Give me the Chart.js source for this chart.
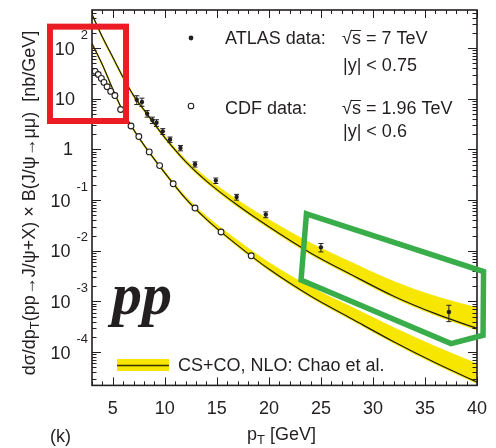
<!DOCTYPE html>
<html>
<head>
<meta charset="utf-8">
<script src="https://cdn.jsdelivr.net/npm/chart.js@4"></script>
<style>
  html, body { margin: 0; padding: 0; background: #fff; }
</style>
</head>
<body>
<canvas id="c" width="496" height="448"></canvas>
<script>
// ATLAS data, sqrt(s) = 7 TeV, |y| < 0.75
const atlasPt = [7.3, 7.8, 8.3, 8.8, 9.2, 9.8, 10.5, 11.5, 12.9, 14.9, 16.9, 19.7, 25.0, 37.3];
const atlasXs = [9.6, 8.7, 5.1, 3.8, 3.36, 2.28, 1.57, 1.07, 0.51, 0.243, 0.115, 0.0518, 0.0117, 0.00062];
const atlasErr = [1.9, 1.6, 0.75, 0.55, 0.5, 0.3, 0.19, 0.13, 0.06, 0.03, 0.015, 0.0068, 0.0022, 0.00022];

// CDF data, sqrt(s) = 1.96 TeV, |y| < 0.6
const cdfPt = [3.3, 3.6, 3.9, 4.15, 4.45, 4.8, 5.2, 5.75, 6.75, 7.5, 8.5, 9.5, 10.8, 12.9, 15.4, 18.3];
const cdfXs = [34.9, 30.2, 25.3, 21.1, 17.3, 14.0, 11.6, 6.16, 2.91, 1.8, 0.895, 0.48, 0.21, 0.0697, 0.0235, 0.00797];

// CS+CO NLO (Chao et al.) central value and band edges
const thPt = [3, 4, 5, 6, 7, 8, 10, 12, 14, 17, 20, 24, 28, 32, 36, 40];
const th7 = [468, 166, 66.1, 26.3, 11.6, 6.03, 1.72, 0.577, 0.237, 0.079, 0.0298, 0.00908, 0.00332, 0.00127, 0.000574, 0.000293];
const th7Hi = [482, 171, 68.1, 27.4, 12.1, 6.33, 1.84, 0.635, 0.277, 0.100, 0.0411, 0.0142, 0.00581, 0.00248, 0.00126, 0.000747];
const th7Lo = [435, 154, 61.5, 24.5, 10.8, 5.61, 1.6, 0.537, 0.22, 0.0735, 0.0277, 0.00844, 0.00309, 0.00118, 0.000534, 0.000272];
const th196 = [123, 47.1, 15.5, 5.55, 2.46, 1.22, 0.345, 0.107, 0.0418, 0.0128, 0.00435, 0.00128, 0.00045, 0.00016, 0.0000615, 0.0000256];
const th196Hi = [128, 49.0, 16.1, 5.77, 2.56, 1.27, 0.369, 0.118, 0.0481, 0.016, 0.00587, 0.00192, 0.000765, 0.000304, 0.000129, 0.0000589];
const th196Lo = [116, 44.3, 14.6, 5.22, 2.31, 1.15, 0.324, 0.1006, 0.0393, 0.012, 0.00409, 0.0012, 0.000423, 0.00015, 0.0000578, 0.0000241];

// tick labels
const xTickVals = [5, 10, 15, 20, 25, 30, 35, 40];
const yDecades = [-4, -3, -2, -1, 0, 1, 2];

// highlight marks drawn over the figure (data coordinates)
const redBoxX = [-1.04, 6.27];
const redBoxY = [266, 3.65];
const greenPolyX = [23.61, 40.63, 40.58, 37.5, 23.09];
const greenPolyY = [0.0538, 0.00389, 0.000215, 0.000147, 0.00266];

const FONT = '"Liberation Sans", Arial, Helvetica, sans-serif';
const INK = '#231f20';
const YELLOW = '#f6e600';

const pts = (xs, ys) => xs.map((x, i) => ({ x: x, y: ys[i] }));

function richWidth(ctx, parts, size) {
  let w = 0;
  parts.forEach(p => {
    ctx.font = (p[1] ? size * 0.72 : size) + 'px ' + FONT;
    w += ctx.measureText(p[0]).width;
  });
  return w;
}

function drawRich(ctx, parts, x, y, size) {
  let cx = x;
  parts.forEach(p => {
    const s = p[1] ? size * 0.72 : size;
    ctx.font = s + 'px ' + FONT;
    const dy = p[1] === 'sub' ? size * 0.32 : 0;
    ctx.fillText(p[0], cx, y + dy);
    cx += ctx.measureText(p[0]).width;
  });
}

const framePlugin = {
  id: 'frame',
  afterDatasetsDraw(chart) {
    const { ctx, chartArea: a, scales: { x, y } } = chart;
    ctx.save();

    // ATLAS error bars
    ctx.strokeStyle = INK;
    ctx.lineWidth = 1;
    atlasPt.forEach((pt, i) => {
      const px = x.getPixelForValue(pt);
      const y1 = y.getPixelForValue(atlasXs[i] + atlasErr[i]);
      const y2 = y.getPixelForValue(atlasXs[i] - atlasErr[i]);
      ctx.beginPath();
      ctx.moveTo(px, y1); ctx.lineTo(px, y2);
      ctx.moveTo(px - 2.5, y1); ctx.lineTo(px + 2.5, y1);
      ctx.moveTo(px - 2.5, y2); ctx.lineTo(px + 2.5, y2);
      ctx.stroke();
    });

    // frame
    ctx.lineWidth = 1.6;
    ctx.strokeRect(a.left, a.top, a.right - a.left, a.bottom - a.top);

    // x ticks (inside, bottom and top)
    ctx.lineWidth = 1;
    ctx.beginPath();
    for (let v = 3; v <= 40; v++) {
      const px = Math.round(x.getPixelForValue(v)) + 0.5;
      const len = v % 5 === 0 ? 8 : 4;
      ctx.moveTo(px, a.bottom); ctx.lineTo(px, a.bottom - len);
      ctx.moveTo(px, a.top); ctx.lineTo(px, a.top + len);
    }
    // y ticks (inside, left and right)
    for (let d = -5; d <= 2; d++) {
      for (let m = 1; m <= 9; m++) {
        const v = m * Math.pow(10, d);
        if (v < y.min || v > y.max) continue;
        const py = Math.round(y.getPixelForValue(v)) + 0.5;
        const len = m === 1 ? 9 : 4.5;
        ctx.moveTo(a.left, py); ctx.lineTo(a.left + len, py);
        ctx.moveTo(a.right, py); ctx.lineTo(a.right - len, py);
      }
    }
    ctx.stroke();

    // y tick labels: 10 with exponent
    ctx.fillStyle = INK;
    ctx.textBaseline = 'middle';
    yDecades.forEach(d => {
      const py = y.getPixelForValue(Math.pow(10, d));
      ctx.textAlign = 'right';
      if (d === 0) {
        ctx.font = '18px ' + FONT;
        ctx.fillText('1', 73, py + 1);
      } else if (d === 1) {
        ctx.font = '18px ' + FONT;
        ctx.fillText('10', 75, py + 1);
      } else {
        ctx.font = '13px ' + FONT;
        const e = d < 0 ? '-' + (-d) : String(d);
        const ew = ctx.measureText(e).width;
        ctx.fillText(e, 88, py - 13);
        ctx.font = '18px ' + FONT;
        ctx.fillText('10', 88 - ew - 6, py + 1.5);
      }
    });
    ctx.restore();
  },
  afterDraw(chart) {
    const { ctx, scales: { x, y } } = chart;
    ctx.save();
    ctx.fillStyle = INK;
    ctx.textBaseline = 'middle';
    ctx.textAlign = 'left';

    // axis titles
    const xt = [['p'], ['T', 'sub'], [' [GeV]']];
    drawRich(ctx, xt, 247, 435, 18);

    const yt = [['dσ/dp'], ['T', 'sub'], ['(pp→J/ψ+X) × B(J/ψ→μμ)  [nb/GeV]']];
    ctx.save();
    ctx.translate(30, 203);
    ctx.rotate(-Math.PI / 2);
    const w = richWidth(ctx, yt, 18);
    drawRich(ctx, yt, -w / 2, 0, 18);
    ctx.restore();

    ctx.font = '18px ' + FONT;
    ctx.fillText('(k)', 50, 437);

    // legend, top right
    ctx.font = '18px ' + FONT;
    ctx.fillText('ATLAS data:', 225, 39);
    ctx.fillText('CDF data:', 225, 109);
    const sqrtS = (txt, lx, ly) => {
      ctx.fillText('√', lx, ly);
      const rw = ctx.measureText('√').width;
      ctx.fillText('s', lx + rw, ly);
      const sw = ctx.measureText('s').width;
      ctx.beginPath();
      ctx.lineWidth = 1;
      ctx.strokeStyle = INK;
      ctx.moveTo(lx + rw - 1, ly - 8.5);
      ctx.lineTo(lx + rw + sw, ly - 8.5);
      ctx.stroke();
      ctx.fillText(txt, lx + rw + sw, ly);
    };
    sqrtS(' = 7 TeV', 342, 39);
    sqrtS(' = 1.96 TeV', 342, 109);
    ctx.fillText('|y| < 0.75', 343, 66);
    ctx.fillText('|y| < 0.6', 343, 132);

    ctx.beginPath();
    ctx.arc(191, 38, 2.4, 0, Math.PI * 2);
    ctx.fill();
    ctx.beginPath();
    ctx.lineWidth = 1.1;
    ctx.arc(191, 106, 2.8, 0, Math.PI * 2);
    ctx.stroke();

    // legend, bottom
    ctx.fillStyle = YELLOW;
    ctx.fillRect(117, 359, 52, 12);
    ctx.strokeStyle = '#3a3300';
    ctx.lineWidth = 1.5;
    ctx.beginPath();
    ctx.moveTo(117, 365.5); ctx.lineTo(169, 365.5);
    ctx.stroke();
    ctx.fillStyle = INK;
    ctx.font = '18px ' + FONT;
    ctx.fillText('CS+CO, NLO: Chao et al.', 178, 366);

    // pp
    ctx.font = 'italic bold 60px "Liberation Serif", "Times New Roman", serif';
    ctx.textBaseline = 'alphabetic';
    ctx.fillText('pp', 112, 314);

    // highlight marks
    ctx.lineJoin = 'miter';
    ctx.strokeStyle = '#ec1c24';
    ctx.lineWidth = 6;
    const rx1 = x.getPixelForValue(redBoxX[0]), rx2 = x.getPixelForValue(redBoxX[1]);
    const ry1 = y.getPixelForValue(redBoxY[0]), ry2 = y.getPixelForValue(redBoxY[1]);
    ctx.strokeRect(rx1, ry1, rx2 - rx1, ry2 - ry1);

    ctx.strokeStyle = '#3aad4b';
    ctx.lineWidth = 5.5;
    ctx.beginPath();
    greenPolyX.forEach((gx, i) => {
      const px = x.getPixelForValue(gx), py = y.getPixelForValue(greenPolyY[i]);
      if (i === 0) ctx.moveTo(px, py); else ctx.lineTo(px, py);
    });
    ctx.closePath();
    ctx.stroke();
    ctx.restore();
  }
};

const bandStyle = {
  borderColor: YELLOW, borderWidth: 0.8, backgroundColor: YELLOW,
  pointRadius: 0, cubicInterpolationMode: 'monotone', order: 3
};
const lineStyle = {
  borderColor: '#1e1a10', borderWidth: 1.2, fill: false,
  pointRadius: 0, cubicInterpolationMode: 'monotone', order: 2
};

new Chart(document.getElementById('c'), {
  type: 'line',
  data: {
    datasets: [
      Object.assign({ label: 'band 7 hi', data: pts(thPt, th7Hi), fill: '+1' }, bandStyle),
      Object.assign({ label: 'band 7 lo', data: pts(thPt, th7Lo), fill: false }, bandStyle),
      Object.assign({ label: 'band 1.96 hi', data: pts(thPt, th196Hi), fill: '+1' }, bandStyle),
      Object.assign({ label: 'band 1.96 lo', data: pts(thPt, th196Lo), fill: false }, bandStyle),
      Object.assign({ label: 'CS+CO 7 TeV', data: pts(thPt, th7) }, lineStyle),
      Object.assign({ label: 'CS+CO 1.96 TeV', data: pts(thPt, th196) }, lineStyle),
      {
        label: 'ATLAS', data: pts(atlasPt, atlasXs), showLine: false, order: 1,
        pointRadius: 2.2, pointBackgroundColor: INK, pointBorderColor: INK, pointBorderWidth: 0
      },
      {
        label: 'CDF', data: pts(cdfPt, cdfXs), showLine: false, order: 1,
        pointRadius: 2.9, pointBackgroundColor: '#fff', pointBorderColor: INK, pointBorderWidth: 1.1
      }
    ]
  },
  options: {
    animation: false,
    responsive: false,
    layout: { padding: { left: 92, right: 19, top: 10, bottom: 23 } },
    plugins: { legend: { display: false }, tooltip: { enabled: false } },
    scales: {
      x: {
        type: 'linear', min: 3, max: 40,
        grid: { display: false }, border: { display: false },
        afterBuildTicks: s => { s.ticks = xTickVals.map(v => ({ value: v })); },
        ticks: { font: { size: 18, family: FONT }, color: INK, padding: 5, maxRotation: 0, autoSkip: false }
      },
      y: { type: 'logarithmic', min: 2.2e-5, max: 567, display: false }
    }
  },
  plugins: [framePlugin]
});
</script>
</body>
</html>
